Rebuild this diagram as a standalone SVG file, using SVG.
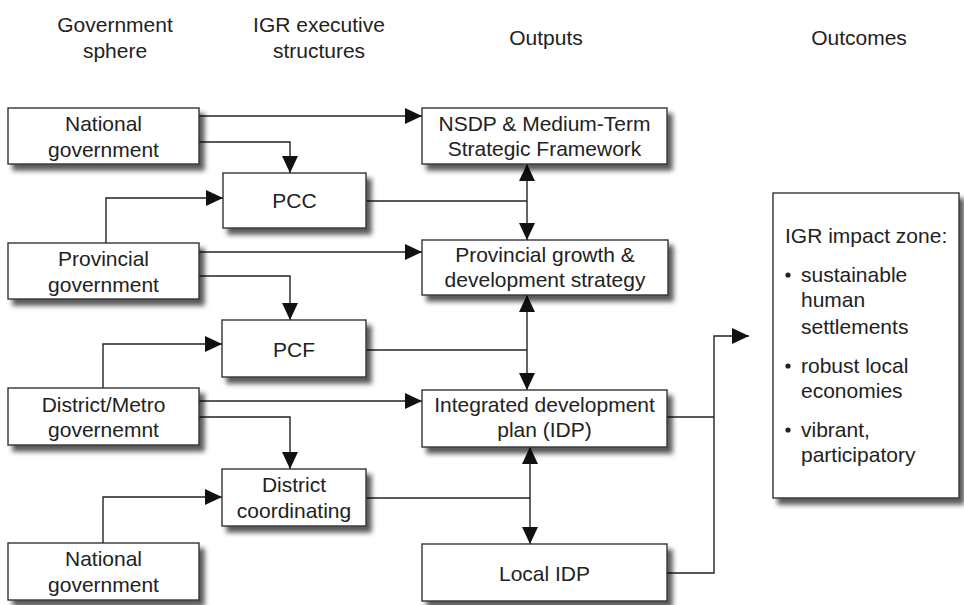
<svg xmlns="http://www.w3.org/2000/svg" width="964" height="605" viewBox="0 0 964 605">
<style>
text{font-family:"Liberation Sans",Arial,Helvetica,sans-serif;font-size:21px;fill:#222}
.c{text-anchor:middle}
.box{fill:#fff;stroke:#333;stroke-width:1.4;filter:url(#sh)}
.ln{fill:none;stroke:#222;stroke-width:1.4}
</style>
<defs>
<filter id="sh" x="-10%" y="-20%" width="130%" height="150%">
<feDropShadow dx="5" dy="6" stdDeviation="2.5" flood-color="#000" flood-opacity="0.65"/>
</filter>
<marker id="ah" markerUnits="userSpaceOnUse" markerWidth="18" markerHeight="17" refX="17" refY="8" orient="auto-start-reverse">
<path d="M0,0 L17,8 L0,16 z" fill="#111"/>
</marker>
</defs>
<g id="headers">
<text class="c" x="115" y="32">Government</text>
<text class="c" x="115" y="58">sphere</text>
<text class="c" x="319" y="32">IGR executive</text>
<text class="c" x="319" y="58">structures</text>
<text class="c" x="546" y="45">Outputs</text>
<text class="c" x="859" y="45">Outcomes</text>
</g>
<g id="connectors">
<path class="ln" d="M199,116 H422" marker-end="url(#ah)"/>
<path class="ln" d="M199,142 H290 V173" marker-end="url(#ah)"/>
<path class="ln" d="M106,243 V198 H223" marker-end="url(#ah)"/>
<path class="ln" d="M366,201 H527"/>
<path class="ln" d="M527,164 V240" marker-start="url(#ah)" marker-end="url(#ah)"/>
<path class="ln" d="M199,252 H422" marker-end="url(#ah)"/>
<path class="ln" d="M199,276 H290 V320" marker-end="url(#ah)"/>
<path class="ln" d="M103,388 V344 H222" marker-end="url(#ah)"/>
<path class="ln" d="M366,350 H527"/>
<path class="ln" d="M527,295 V390" marker-start="url(#ah)" marker-end="url(#ah)"/>
<path class="ln" d="M199,401 H422" marker-end="url(#ah)"/>
<path class="ln" d="M199,417 H290 V469" marker-end="url(#ah)"/>
<path class="ln" d="M103,543 V497 H222" marker-end="url(#ah)"/>
<path class="ln" d="M366,498 H530"/>
<path class="ln" d="M530,447 V544" marker-start="url(#ah)" marker-end="url(#ah)"/>
<path class="ln" d="M667,417 H714"/>
<path class="ln" d="M667,573 H714 V336 H749" marker-end="url(#ah)"/>
</g>
<g id="national1">
<rect class="box" x="8" y="108" width="191" height="56"/>
<text class="c" x="103.5" y="131">National</text>
<text class="c" x="103.5" y="157">government</text>
</g>
<g id="provincial">
<rect class="box" x="8" y="243" width="191" height="56"/>
<text class="c" x="103.5" y="266">Provincial</text>
<text class="c" x="103.5" y="292">government</text>
</g>
<g id="district">
<rect class="box" x="8" y="388" width="191" height="57"/>
<text class="c" x="103.5" y="412">District/Metro</text>
<text class="c" x="103.5" y="437">governemnt</text>
</g>
<g id="national2">
<rect class="box" x="8" y="543" width="191" height="57"/>
<text class="c" x="103.5" y="566">National</text>
<text class="c" x="103.5" y="592">government</text>
</g>
<g id="pcc">
<rect class="box" x="223" y="173" width="143" height="55"/>
<text class="c" x="294.5" y="208">PCC</text>
</g>
<g id="pcf">
<rect class="box" x="222" y="320" width="144" height="57"/>
<text class="c" x="294" y="357">PCF</text>
</g>
<g id="districtcoord">
<rect class="box" x="222" y="469" width="144" height="57"/>
<text class="c" x="294" y="492">District</text>
<text class="c" x="294" y="518">coordinating</text>
</g>
<g id="nsdp">
<rect class="box" x="422" y="108" width="245" height="56"/>
<text class="c" x="544.5" y="131">NSDP &amp; Medium-Term</text>
<text class="c" x="544.5" y="156">Strategic Framework</text>
</g>
<g id="pgds">
<rect class="box" x="422" y="240" width="246" height="55"/>
<text class="c" x="545" y="262">Provincial growth &amp;</text>
<text class="c" x="545" y="287">development strategy</text>
</g>
<g id="idp">
<rect class="box" x="422" y="390" width="245" height="57"/>
<text class="c" x="544.5" y="412">Integrated development</text>
<text class="c" x="544.5" y="437">plan (IDP)</text>
</g>
<g id="localidp">
<rect class="box" x="422" y="544" width="245" height="57"/>
<text class="c" x="544.5" y="581">Local IDP</text>
</g>
<g id="impact">
<rect class="box" x="773" y="193" width="186" height="305"/>
<text x="785" y="243">IGR impact zone:</text>
<circle cx="788" cy="275" r="2.6" fill="#222"/>
<text x="801" y="282">sustainable</text>
<text x="801" y="307">human</text>
<text x="801" y="334">settlements</text>
<circle cx="788" cy="366" r="2.6" fill="#222"/>
<text x="801" y="373">robust local</text>
<text x="801" y="398">economies</text>
<circle cx="788" cy="430" r="2.6" fill="#222"/>
<text x="801" y="437">vibrant,</text>
<text x="801" y="462">participatory</text>
</g>
</svg>
